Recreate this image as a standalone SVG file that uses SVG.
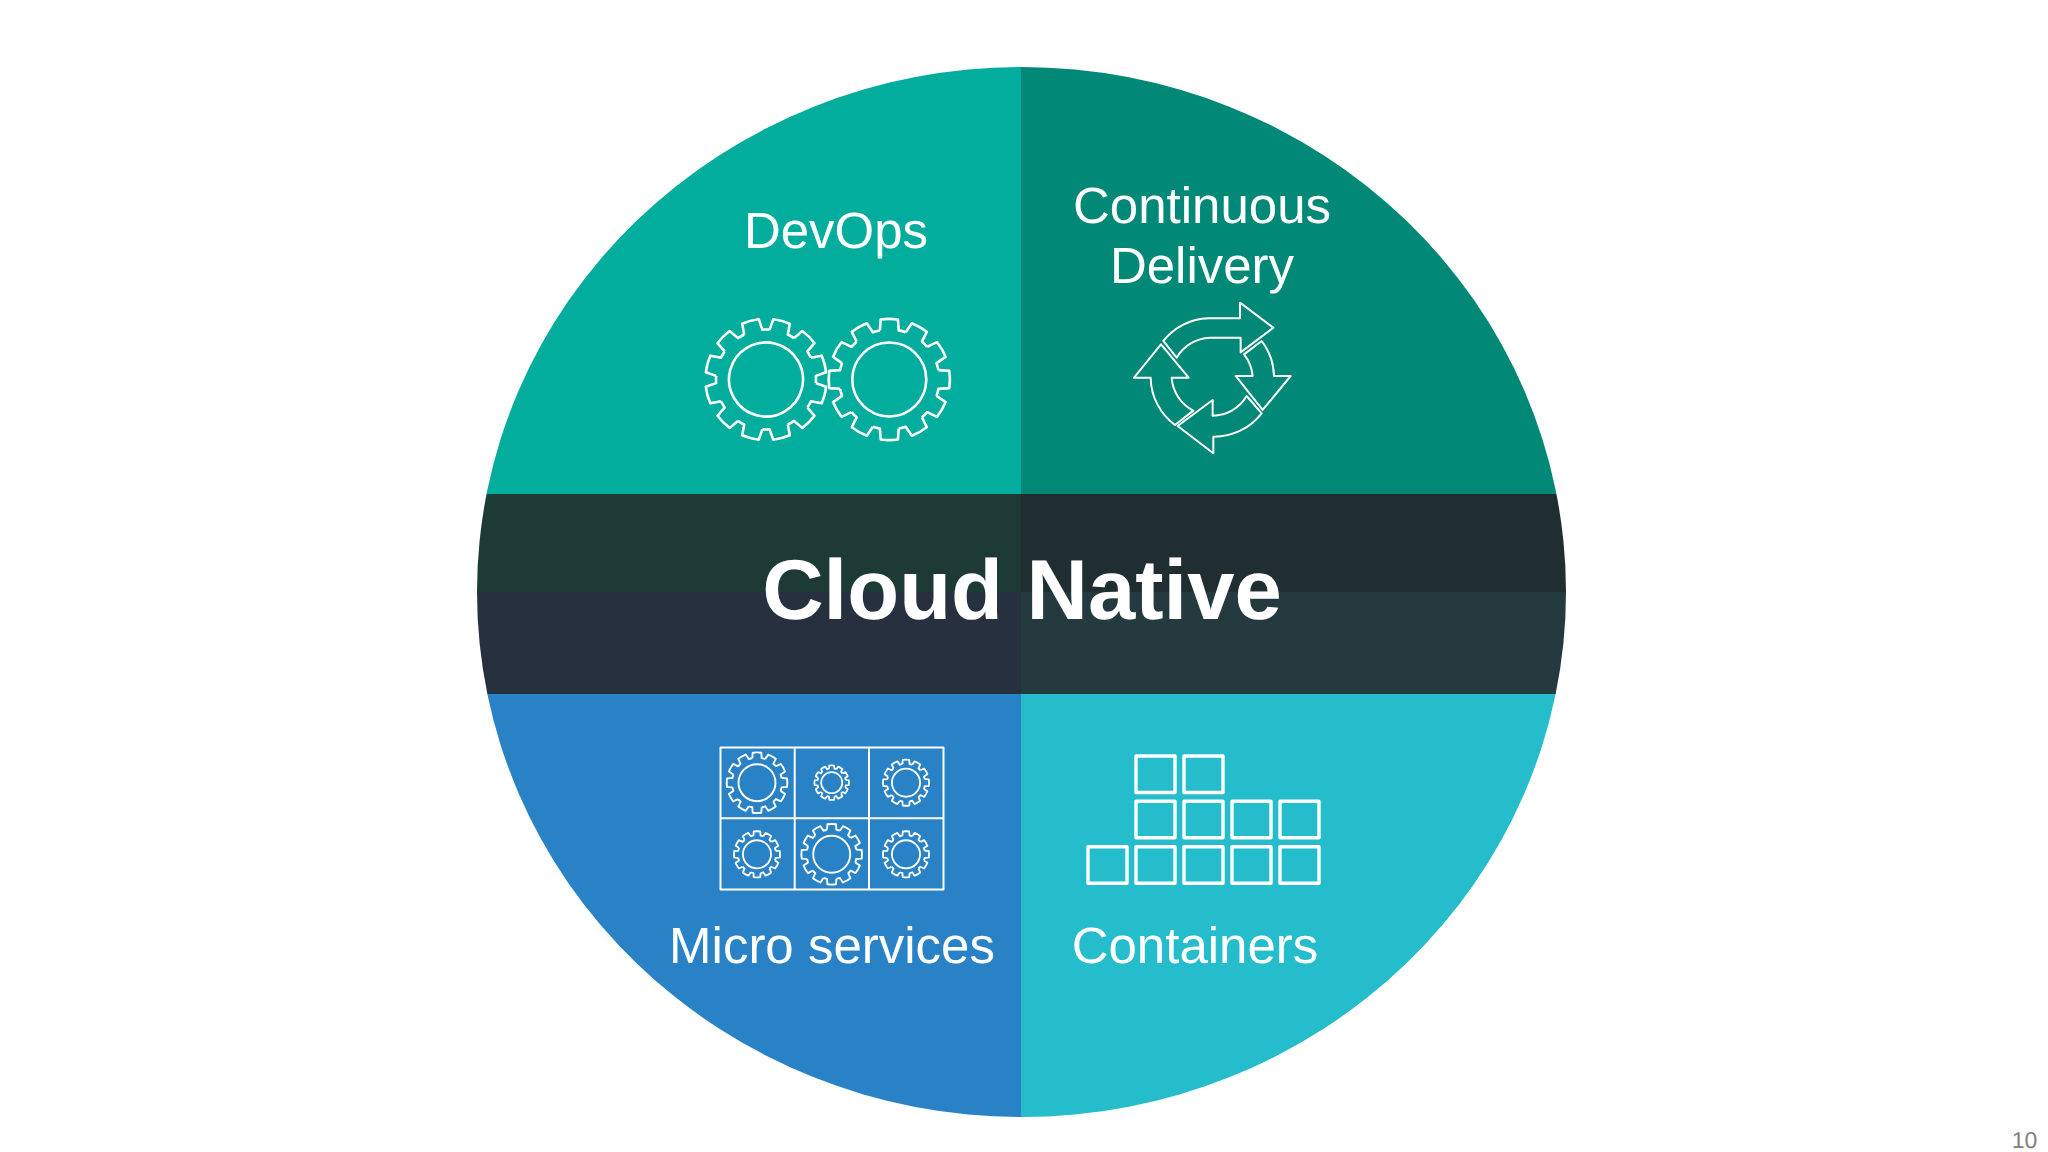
<svg xmlns="http://www.w3.org/2000/svg" xmlns:xlink="http://www.w3.org/1999/xlink" width="2048" height="1152" viewBox="0 0 2048 1152">
<style>
text{font-family:"Liberation Sans",Arial,sans-serif;fill:#fff;text-anchor:middle;text-rendering:geometricPrecision}
.lbl{font-size:51px}
.ico{fill:none;stroke:#fff;stroke-linejoin:round}
</style>
<defs>
<clipPath id="disc"><ellipse cx="1021.5" cy="592" rx="544.5" ry="525"/></clipPath>
<path id="t" d="M-9.4,-49.1 L-8.6,-60 A60,60 0 0 1 8.6,-60 L9.4,-49.1 A50,50 0 0 1 16.4,-47.2"/>
<g id="gear">
<use xlink:href="#t" href="#t"/>
<use xlink:href="#t" href="#t" transform="rotate(30)"/>
<use xlink:href="#t" href="#t" transform="rotate(60)"/>
<use xlink:href="#t" href="#t" transform="rotate(90)"/>
<use xlink:href="#t" href="#t" transform="rotate(120)"/>
<use xlink:href="#t" href="#t" transform="rotate(150)"/>
<use xlink:href="#t" href="#t" transform="rotate(180)"/>
<use xlink:href="#t" href="#t" transform="rotate(210)"/>
<use xlink:href="#t" href="#t" transform="rotate(240)"/>
<use xlink:href="#t" href="#t" transform="rotate(270)"/>
<use xlink:href="#t" href="#t" transform="rotate(300)"/>
<use xlink:href="#t" href="#t" transform="rotate(330)"/>
<circle r="37"/>
</g>
</defs>
<rect width="2048" height="1152" fill="#fff"/>
<g id="disc-bg" clip-path="url(#disc)" shape-rendering="crispEdges">
<rect x="470" y="60" width="551" height="434" fill="#03ad9e"/>
<rect x="1021" y="60" width="550" height="434" fill="#028876"/>
<rect x="470" y="694" width="551" height="430" fill="#2a82c6"/>
<rect x="1021" y="694" width="550" height="430" fill="#25bdcb"/>
<rect x="470" y="494" width="551" height="98" fill="#1e3a35"/>
<rect x="1021" y="494" width="550" height="98" fill="#202e32"/>
<rect x="470" y="592" width="551" height="102" fill="#26303f"/>
<rect x="1021" y="592" width="550" height="102" fill="#253a3f"/>
</g>
<g id="devops">
<text class="lbl" x="836" y="248">DevOps</text>
<g class="ico" stroke-width="2.6">
<use xlink:href="#gear" href="#gear" transform="translate(766,379.5) rotate(15)"/>
<use xlink:href="#gear" href="#gear" transform="translate(889.3,379.5)"/>
</g>
</g>
<g id="continuous-delivery">
<text class="lbl" x="1202" y="223">Continuous</text>
<text class="lbl" x="1202" y="283">Delivery</text>
<g class="ico" stroke-width="6" transform="translate(1110,290) scale(.3333)">
<path d="M160,153 A180,180 0 0 1 295,85 L390,85 L390,38 L490,113 L392,187 L392,143 L300,143 A120,120 0 0 0 200,203 Z"/>
<path d="M455,153 A180,180 0 0 1 492,258 L542,258 L458,360 L377,258 L428,258 A120,120 0 0 0 402,193 Z"/>
<path d="M455,370 A180,180 0 0 1 310,440 L310,490 L203,408 L308,330 L308,377 A120,120 0 0 0 410,318 Z"/>
<path d="M195,405 A180,180 0 0 1 122,263 L72,263 L153,163 L236,263 L185,263 A120,120 0 0 0 250,362 Z"/>
</g>
</g>
<g id="cloud-native">
<text x="1022" y="619" font-size="85" font-weight="700">Cloud Native</text>
</g>
<g id="micro-services">
<text class="lbl" x="832" y="962.5">Micro services</text>
<g class="ico" stroke-width="2">
<rect x="720.5" y="747.5" width="223" height="142"/>
<path d="M794.7,747.5V889.5M869,747.5V889.5M720.5,818.3H943.5"/>
</g>
<g class="ico">
<use xlink:href="#gear" href="#gear" stroke-width="3.8" transform="translate(757,782.7) scale(.5)"/>
<use xlink:href="#gear" href="#gear" stroke-width="6" transform="translate(831.7,782.7) scale(.285)"/>
<use xlink:href="#gear" href="#gear" stroke-width="4.8" transform="translate(906,782.7) scale(.38)"/>
<use xlink:href="#gear" href="#gear" stroke-width="4.8" transform="translate(757,854.3) scale(.38)"/>
<use xlink:href="#gear" href="#gear" stroke-width="3.8" transform="translate(831.7,854.3) scale(.5)"/>
<use xlink:href="#gear" href="#gear" stroke-width="4.8" transform="translate(906,854.3) scale(.38)"/>
</g>
</g>
<g id="containers">
<text class="lbl" x="1195" y="962.5">Containers</text>
<g class="ico" stroke-width="3.4">
<rect x="1136" y="756" width="39" height="36.5"/>
<rect x="1184" y="756" width="39" height="36.5"/>
<rect x="1136" y="801.3" width="39" height="36.5"/>
<rect x="1184" y="801.3" width="39" height="36.5"/>
<rect x="1232" y="801.3" width="39" height="36.5"/>
<rect x="1280" y="801.3" width="39" height="36.5"/>
<rect x="1088" y="846.7" width="39" height="36.5"/>
<rect x="1136" y="846.7" width="39" height="36.5"/>
<rect x="1184" y="846.7" width="39" height="36.5"/>
<rect x="1232" y="846.7" width="39" height="36.5"/>
<rect x="1280" y="846.7" width="39" height="36.5"/>
</g>
</g>
<g id="connectors"></g>
<text x="2024.5" y="1148" font-size="23" style="fill:#808080">10</text>
</svg>
